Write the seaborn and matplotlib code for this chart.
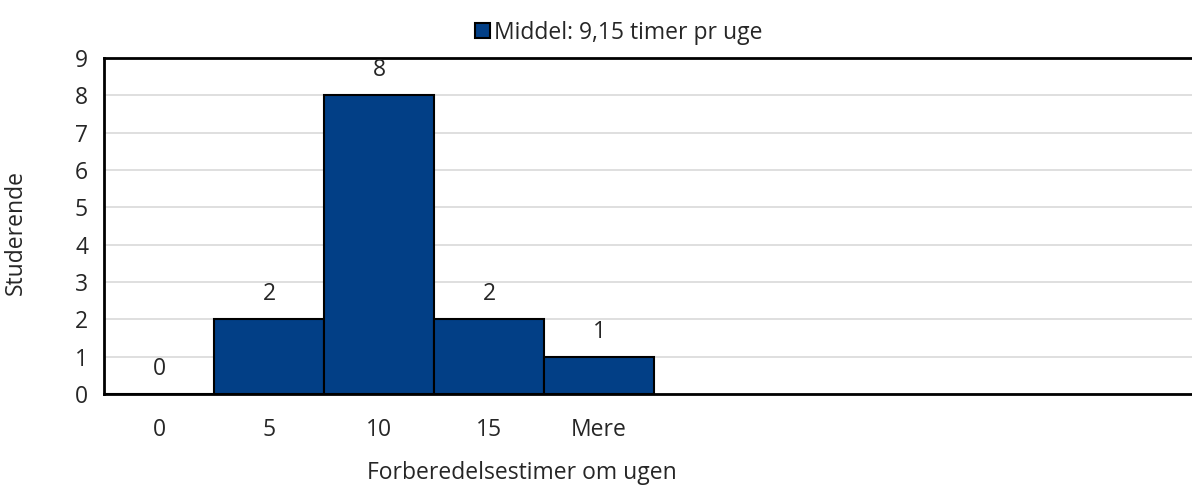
import matplotlib.pyplot as plt
import pandas as pd
import seaborn as sns

# Data
categories = ['0', '5', '10', '15', 'Mere']
students = [0, 2, 8, 2, 1]
legend_label = 'Middel: 9,15 timer pr uge'

df = pd.DataFrame({'timer': categories, 'studerende': students})

sns.set_style('white')
plt.rcParams['font.family'] = ['Open Sans', 'DejaVu Sans']
fs = 16.5

fig = plt.figure(figsize=(11.92, 4.86), dpi=100)
ax = fig.add_axes([104 / 1192, 1 - 394 / 486, 1 - 104 / 1192, 336 / 486])

bar_color = '#023F86'
sns.barplot(data=df, x='timer', y='studerende', order=categories, color=bar_color,
            width=1.0, edgecolor='black', linewidth=1.5, saturation=1, ax=ax,
            label=legend_label)

# value labels over the bars
for i, v in enumerate(students):
    ax.annotate(str(v), (i, v), xytext=(0, 18), textcoords='offset points',
                ha='center', va='center', fontsize=fs)

ax.set_ylim(0, 9)
ax.set_yticks(range(0, 10))
ax.set_xlim(-0.5, -0.5 + 1088 / 110)
ax.yaxis.grid(True, color='#d9d9d9', linewidth=1.2)
ax.set_axisbelow(True)

for side in ['left', 'bottom', 'top']:
    ax.spines[side].set_visible(True)
    ax.spines[side].set_color('black')
    ax.spines[side].set_linewidth(2)
ax.spines['right'].set_visible(False)

ax.tick_params(axis='y', direction='inout', length=11, width=1.2, color='#555555',
               labelsize=fs, pad=6)
ax.tick_params(axis='x', length=0, labelsize=fs, pad=17)

ax.set_xlabel('Forberedelsestimer om ugen', fontsize=fs)
ax.xaxis.set_label_coords((522 - 104) / 1088, -0.2)
ax.set_ylabel('Studerende', fontsize=fs)
ax.yaxis.set_label_coords(-0.07, 0.48)

leg = ax.legend(loc='center', bbox_to_anchor=(0.473, 1.075), frameon=False,
                fontsize=fs, handlelength=0.65, handleheight=0.65, handletextpad=0.2,
                borderaxespad=0)

fig.savefig('out.png', dpi=100)
plt.close()
